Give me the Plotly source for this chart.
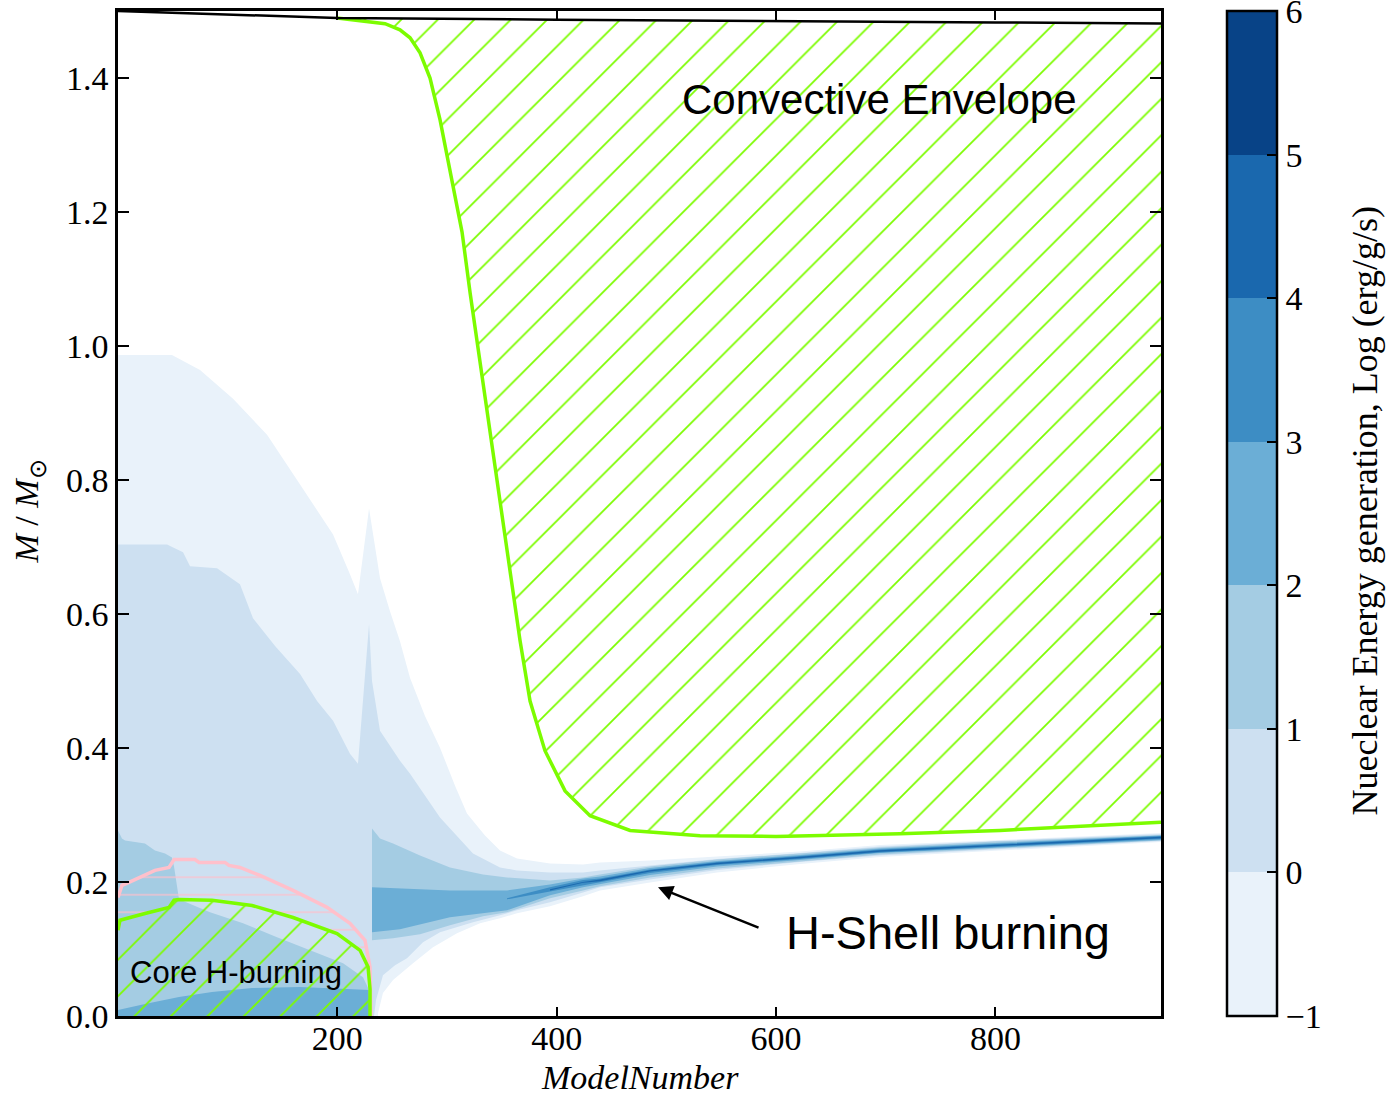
import plotly.graph_objects as go

# ---------------- colour levels (log nuclear energy generation) ----------------
level_edges = [-1, 0, 1, 2, 3, 4, 5, 6]
level_colors = ["#e9f2fa", "#cde0f1", "#a4cce3", "#6baed6", "#3d8dc4", "#1a68ae", "#084387"]
level_ticktext = ["\u22121", "0", "1", "2", "3", "4", "5", "6"]

# ---------------- region outlines (model number, M/Msun) ----------------
# eps >= -1
lvl_m1_model = [0, 0, 49.2, 74.8, 104.9, 135.9, 166.0, 196.1, 211.5, 218.8,
                228.9, 238.9, 248.0, 257.1, 266.3, 279.9, 293.6, 307.3, 318.2, 334.6,
                348.3, 363.8, 393.9, 424.0, 439.5, 485.1, 546.2, 621.9, 694.8, 799.7,
                951.0, 951.0, 799.7, 694.8, 621.9, 546.2, 485.1, 439.5, 424.0, 393.9,
                363.8, 348.3, 330.1, 309.1, 287.2, 269.0, 250.8, 241.6, 237.1, 237.1]
lvl_m1_mass = [0, 0.9866, 0.9866, 0.9643, 0.9211, 0.8676, 0.7932, 0.7188, 0.6592, 0.6295,
               0.7574, 0.6533, 0.6042, 0.5595, 0.5045, 0.4479, 0.4003, 0.3438, 0.3021, 0.2693,
               0.2470, 0.2351, 0.2277, 0.2262, 0.2292, 0.2321, 0.2381, 0.2455, 0.2552, 0.2626,
               0.2731, 0.2597, 0.2470, 0.2374, 0.2269, 0.2143, 0.1994, 0.1875, 0.1786, 0.1637,
               0.1533, 0.1458, 0.1384, 0.1235, 0.1027, 0.0789, 0.0536, 0.0342, 0.0045, 0.0]

# eps >= 0
lvl_0_model = [0, 0, 44.7, 59.3, 65.7, 90.3, 111.2, 123.1, 143.2, 166.0,
               181.5, 196.1, 211.5, 218.8, 228.9, 231.6, 238.9, 257.1, 266.3, 293.6,
               323.7, 348.3, 363.8, 393.9, 424.0, 439.5, 485.1, 546.2, 621.9, 694.8,
               799.7, 951.0, 951.0, 799.7, 694.8, 621.9, 546.2, 485.1, 439.5, 424.0,
               393.9, 363.8, 348.3, 323.7, 293.6, 278.1, 263.5, 252.6, 241.6, 235.3, 233.4]
lvl_0_mass = [0, 0.7039, 0.7039, 0.6920, 0.6711, 0.6682, 0.6443, 0.5938, 0.5521, 0.5104,
              0.4702, 0.4405, 0.3914, 0.3765, 0.5848, 0.5000, 0.4256, 0.3810, 0.3616, 0.2961,
              0.2426, 0.2217, 0.2173, 0.2143, 0.2143, 0.2173, 0.2247, 0.2344, 0.2433, 0.2530,
              0.2612, 0.2716, 0.2612, 0.2485, 0.2396, 0.2299, 0.2180, 0.2039, 0.1920, 0.1845,
              0.1696, 0.1577, 0.1503, 0.1399, 0.1250, 0.1101, 0.0863, 0.0759, 0.0610, 0.0238, 0.0]

# eps >= 1, core-burning phase
lvl_1a_model = [0, 0, 3.6, 6.4, 24.6, 33.7, 42.9, 49.2, 51.1, 55.6,
                83.9, 114.0, 145.0, 175.1, 205.2, 223.4, 228.9, 229.8]
lvl_1a_mass = [0, 0.2768, 0.2649, 0.2619, 0.2574, 0.2470, 0.2426, 0.2366, 0.2232, 0.1741,
               0.1548, 0.1384, 0.1176, 0.0982, 0.0789, 0.0580, 0.0387, 0.0]

# eps >= 1, shell-burning phase
lvl_1b_model = [231.6, 238.9, 250.8, 275.4, 302.7, 332.8, 354.7, 393.9, 424.0, 439.5,
                485.1, 546.2, 621.9, 694.8, 799.7, 951.0, 951.0, 799.7, 694.8, 621.9,
                546.2, 485.1, 439.5, 424.0, 393.9, 354.7, 332.8, 302.7, 275.4, 250.8,
                238.9, 231.6]
lvl_1b_mass = [0.2798, 0.2649, 0.2574, 0.2396, 0.2217, 0.2113, 0.2068, 0.2024, 0.2068, 0.2113,
               0.2232, 0.2336, 0.2426, 0.2515, 0.2604, 0.2701, 0.2619, 0.2493, 0.2411, 0.2307,
               0.2202, 0.2068, 0.1935, 0.1875, 0.1756, 0.1548, 0.1488, 0.1354, 0.1220, 0.1161,
               0.1146, 0.1131]

# eps >= 2, core-burning phase
lvl_2a_model = [0, 0, 24.6, 55.6, 85.7, 122.2, 166.0, 205.2, 229.8, 229.8]
lvl_2a_mass = [0, 0.0089, 0.0179, 0.0283, 0.0357, 0.0417, 0.0432, 0.0400, 0.0387, 0.0]

# eps >= 2, shell-burning phase
lvl_2b_model = [231.6, 257.1, 302.7, 354.7, 393.9, 424.0, 439.5, 485.1, 546.2, 621.9,
                694.8, 799.7, 951.0, 951.0, 799.7, 694.8, 621.9, 546.2, 485.1, 439.5,
                424.0, 393.9, 354.7, 302.7, 257.1, 231.6]
lvl_2b_mass = [0.1920, 0.1905, 0.1875, 0.1875, 0.1964, 0.2054, 0.2083, 0.2210, 0.2314, 0.2403,
               0.2500, 0.2582, 0.2693, 0.2626, 0.2507, 0.2433, 0.2329, 0.2232, 0.2106, 0.1964,
               0.1920, 0.1801, 0.1577, 0.1473, 0.1295, 0.1250]

# eps >= 3
lvl_3_model = [354.7, 393.9, 424.0, 439.5, 485.1, 546.2, 621.9, 694.8, 799.7, 951.0,
               951.0, 799.7, 694.8, 621.9, 546.2, 485.1, 439.5, 424.0, 393.9, 354.7]
lvl_3_mass = [0.1756, 0.1920, 0.2031, 0.2054, 0.2188, 0.2299, 0.2388, 0.2485, 0.2567, 0.2686,
              0.2641, 0.2522, 0.2440, 0.2344, 0.2254, 0.2135, 0.1994, 0.1957, 0.1860, 0.1741]

# eps >= 4
lvl_4_model = [393.9, 424.0, 439.5, 485.1, 546.2, 621.9, 694.8, 799.7, 951.0,
               951.0, 799.7, 694.8, 621.9, 546.2, 485.1, 439.5, 424.0, 393.9]
lvl_4_mass = [0.1890, 0.2001, 0.2036, 0.2176, 0.2287, 0.2376, 0.2473, 0.2555, 0.2674,
              0.2653, 0.2534, 0.2452, 0.2356, 0.2266, 0.2155, 0.2012, 0.1987, 0.1875]

# total stellar mass
star_model = [0, 100, 200, 400, 600, 800, 951]
star_mass = [1.5, 1.4948, 1.4896, 1.4870, 1.4845, 1.4830, 1.4815]

# lower boundary of convective envelope
env_model = [199.7, 227.0, 243.5, 257.1, 266.3, 275.4, 284.5, 293.6, 302.7, 313.7,
             321.0, 330.1, 339.2, 348.3, 357.4, 366.6, 375.7, 389.3, 407.6, 430.4,
             466.9, 530.7, 600.0, 713.0, 804.2, 951.0]
env_mass = [1.4896, 1.4850, 1.4810, 1.4720, 1.4600, 1.4375, 1.4000, 1.3380, 1.2590, 1.1700,
            1.0800, 0.9760, 0.8720, 0.7680, 0.6640, 0.5600, 0.4700, 0.3960, 0.3360, 0.2990,
            0.2770, 0.2690, 0.2680, 0.2720, 0.2770, 0.2890]

# convective core boundary
core_model = [0, 0, 1.8, 24.6, 46.5, 51.1, 55.6, 85.7, 122.2, 159.6,
              199.7, 220.7, 228.0, 229.8, 229.8]
core_mass = [0, 0.128, 0.143, 0.153, 0.162, 0.173, 0.174, 0.1726, 0.165, 0.147,
             0.123, 0.098, 0.073, 0.040, 0.0]

# extra-mixing (overshoot) boundary above the core
mix_model = [0, 1.8, 3.6, 10.0, 19.1, 28.3, 33.7, 46.5, 51.1, 70.2,
             73.9, 97.6, 101.2, 111.2, 122.2, 129.5, 159.6, 190.6, 211.5, 225.2,
             229.8, 230.7, 230.7]
mix_mass = [0.177, 0.1875, 0.1949, 0.1994, 0.2068, 0.2143, 0.2173, 0.2217, 0.2336, 0.2336,
            0.2292, 0.2292, 0.2247, 0.2217, 0.2143, 0.2098, 0.1875, 0.1622, 0.1384, 0.1131,
            0.0729, 0.0238, 0.0]

GREEN = "#7cfc00"
PINK = "#ffc0cb"
SERIF = "Liberation Serif"
SANS = "Liberation Sans"

fig = go.Figure()

# dummy trace carrying the discrete colour bar
cscale = []
n = len(level_colors)
for i, c in enumerate(level_colors):
    cscale.append([i / n, c])
    cscale.append([(i + 1) / n, c])
fig.add_trace(go.Scatter(
    x=[10, 20], y=[-1, -1], mode="markers",
    marker=dict(size=1, opacity=0, color=[level_edges[0], level_edges[-1]],
                cmin=level_edges[0] - 0.0005, cmax=level_edges[-1] + 0.0005,
                colorscale=cscale, showscale=True,
                colorbar=dict(x=1.0633, xanchor="left", xpad=0, y=0.5, yanchor="middle", ypad=0,
                              len=1, lenmode="fraction", thickness=50, thicknessmode="pixels",
                              outlinewidth=2.5, outlinecolor="black",
                              ticks="inside", ticklen=11, tickwidth=1.5, tickcolor="black",
                              tickmode="array", tickvals=level_edges, ticktext=level_ticktext,
                              ticklabeloverflow="allow",
                              tickfont=dict(family=SERIF, size=34, color="black"))),
    hoverinfo="skip", showlegend=False))

def region(xs, ys, color):
    fig.add_trace(go.Scatter(x=xs, y=ys, mode="lines", fill="toself", fillcolor=color,
                             line=dict(width=0, color=color), hoverinfo="skip", showlegend=False))

region(lvl_m1_model, lvl_m1_mass, level_colors[0])
region(lvl_0_model, lvl_0_mass, level_colors[1])
region(lvl_1a_model, lvl_1a_mass, level_colors[2])
region(lvl_1b_model, lvl_1b_mass, level_colors[2])
region(lvl_2a_model, lvl_2a_mass, level_colors[3])
region(lvl_2b_model, lvl_2b_mass, level_colors[3])
region(lvl_3_model, lvl_3_mass, level_colors[4])
region(lvl_4_model, lvl_4_mass, level_colors[5])

def hatch(shape, size, solidity, color):
    return dict(shape=shape, size=size, solidity=solidity, fgcolor=color, fgopacity=1,
                bgcolor="rgba(0,0,0,0)", fillmode="replace")

# pink hatched overshoot zone (between mixing boundary and core boundary)
pink_x = mix_model + core_model[::-1][1:-1]
pink_y = mix_mass + core_mass[::-1][1:-1]
fig.add_trace(go.Scatter(x=pink_x, y=pink_y, mode="lines", fill="toself",
                         fillcolor="rgba(0,0,0,0)", line=dict(width=0),
                         fillpattern=hatch("-", 17.5, 0.07, PINK),
                         hoverinfo="skip", showlegend=False))
fig.add_trace(go.Scatter(x=mix_model, y=mix_mass, mode="lines",
                         line=dict(color=PINK, width=3.5), hoverinfo="skip", showlegend=False))

# hatched convective core
fig.add_trace(go.Scatter(x=core_model, y=core_mass, mode="lines", fill="toself",
                         fillcolor="rgba(0,0,0,0)", line=dict(width=0),
                         fillpattern=hatch("/", 25.8, 0.07, GREEN),
                         hoverinfo="skip", showlegend=False))
fig.add_trace(go.Scatter(x=core_model[1:], y=core_mass[1:], mode="lines",
                         line=dict(color=GREEN, width=3.5), hoverinfo="skip", showlegend=False))

# hatched convective envelope
top_x = [m for m in star_model if m >= 200][::-1]
top_y = [v for m, v in zip(star_model, star_mass) if m >= 200][::-1]
fig.add_trace(go.Scatter(x=env_model + top_x, y=env_mass + top_y, mode="lines", fill="toself",
                         fillcolor="rgba(0,0,0,0)", line=dict(width=0),
                         fillpattern=hatch("/", 25.8, 0.07, GREEN),
                         hoverinfo="skip", showlegend=False))
fig.add_trace(go.Scatter(x=env_model, y=env_mass, mode="lines",
                         line=dict(color=GREEN, width=3.5), hoverinfo="skip", showlegend=False))

# total mass
fig.add_trace(go.Scatter(x=star_model, y=star_mass, mode="lines",
                         line=dict(color="black", width=2.5), hoverinfo="skip", showlegend=False))

axis_common = dict(showline=True, linecolor="black", linewidth=2.5, mirror="ticks",
                   ticks="inside", tickcolor="black", tickwidth=1.5,
                   showgrid=False, zeroline=False,
                   tickfont=dict(family=SERIF, size=34, color="black"))

fig.update_xaxes(range=[0, 951], tickvals=[200, 400, 600, 800], ticklen=9,
                 ticklabelstandoff=-10, **axis_common)
fig.update_yaxes(range=[0, 1.5], tickvals=[0, 0.2, 0.4, 0.6, 0.8, 1.0, 1.2, 1.4],
                 tickformat=".1f", ticklen=11, **axis_common)

annotations = [
    dict(x=694, y=1.3676, xref="x", yref="y", text="Convective Envelope", showarrow=False,
         xanchor="center", yanchor="middle",
         font=dict(family=SANS, size=42, color="black")),
    dict(x=757, y=0.125, xref="x", yref="y", text="H-Shell burning", showarrow=False,
         xanchor="center", yanchor="middle",
         font=dict(family=SANS, size=47, color="black")),
    dict(x=492.4, y=0.192, xref="x", yref="y", ax=585.4, ay=0.131, axref="x", ayref="y",
         text="", showarrow=True, arrowhead=2, arrowsize=1.2, arrowwidth=2.5, arrowcolor="black"),
    dict(x=107.6, y=0.0655, xref="x", yref="y", text="Core H-burning", showarrow=False,
         xanchor="center", yanchor="middle",
         font=dict(family=SANS, size=31, color="black")),
    dict(x=0.5005, y=-0.061, xref="paper", yref="paper", text="<i>ModelNumber</i>",
         xanchor="center", yanchor="middle",
         showarrow=False, font=dict(family=SERIF, size=34, color="black")),
    dict(x=-0.0844, y=0.502, xref="paper", yref="paper", textangle=-90,
         xanchor="center", yanchor="middle",
         text="<i>M</i> / <i>M</i><sub>\u2299</sub>", showarrow=False,
         font=dict(family=SERIF, size=34, color="black")),
    dict(x=1.1956, y=0.502, xref="paper", yref="paper", textangle=-90,
         xanchor="center", yanchor="middle",
         text="Nueclear Energy generation, Log (erg/g/s)", showarrow=False,
         font=dict(family=SERIF, size=36, color="black")),
]

fig.update_layout(width=1388, height=1097,
                  margin=dict(l=118, r=227, t=8, b=81, pad=0),
                  plot_bgcolor="white", paper_bgcolor="white",
                  font=dict(family=SERIF, color="black"),
                  showlegend=False, annotations=annotations)

fig.write_html("out.html")
